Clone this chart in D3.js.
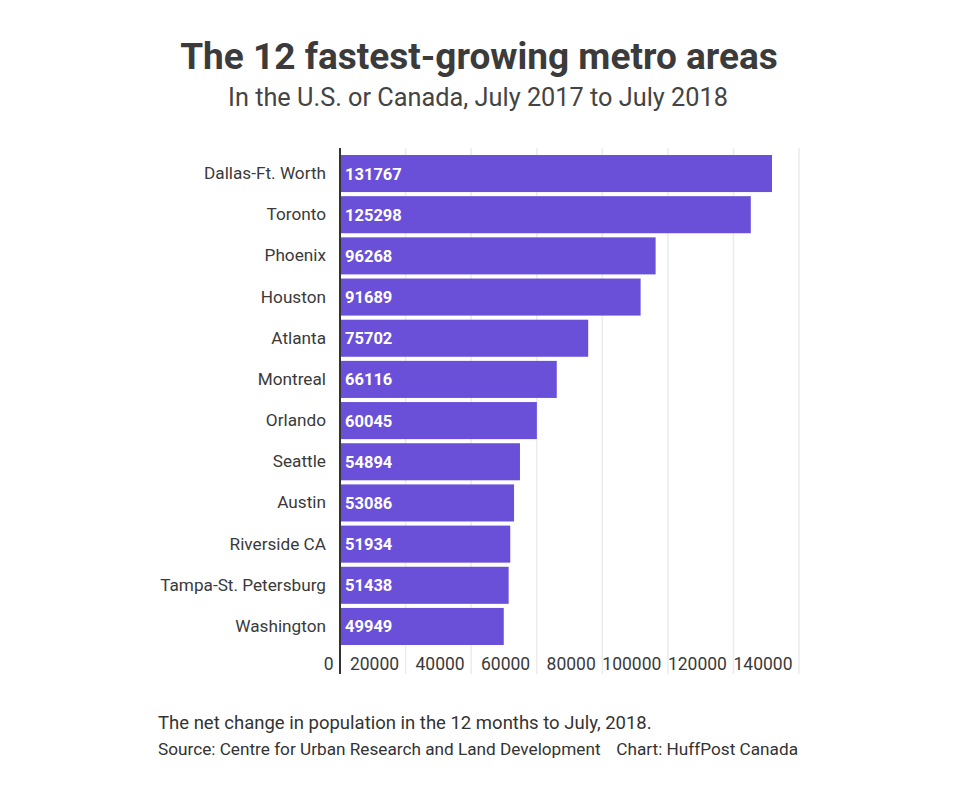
<!DOCTYPE html>
<html>
<head>
<meta charset="utf-8">
<script src="https://cdn.jsdelivr.net/npm/d3@7"></script>
<style>
  body { margin: 0; background: #fff; }
  text { font-family: Roboto, "Noto Sans", sans-serif; }
</style>
</head>
<body>
<div class="canvas"></div>
<script>
// data
const metros = ["Dallas-Ft. Worth", "Toronto", "Phoenix", "Houston", "Atlanta", "Montreal",
  "Orlando", "Seattle", "Austin", "Riverside CA", "Tampa-St. Petersburg", "Washington"];
const growth = [131767, 125298, 96268, 91689, 75702, 66116, 60045, 54894, 53086, 51934, 51438, 49949];
const tickValues = [0, 20000, 40000, 60000, 80000, 100000, 120000, 140000];

const chartSet = { width: 974, height: 787 };
const plot = { left: 340, right: 799, top: 148, bottom: 674, barTop: 155, barBottom: 645 };

const svg = d3
  .select(".canvas")
  .append("svg")
  .attr("width", chartSet.width)
  .attr("height", chartSet.height);

// titles
svg.append("text")
  .attr("x", 479).attr("y", 69)
  .attr("text-anchor", "middle")
  .attr("font-size", 37).attr("font-weight", "bold")
  .attr("fill", "#3b3b3b")
  .text("The 12 fastest-growing metro areas");

svg.append("text")
  .attr("x", 478).attr("y", 106)
  .attr("text-anchor", "middle")
  .attr("font-size", 25.3)
  .attr("fill", "#444")
  .text("In the U.S. or Canada, July 2017 to July 2018");

// scales
const x = d3.scaleLinear().domain([0, 140000]).range([plot.left, plot.right]);
const y = d3.scaleBand().domain(metros).range([plot.barTop, plot.barBottom]).paddingInner(0.1).paddingOuter(0);

// gridlines
svg.append("g")
  .selectAll("line")
  .data(tickValues.slice(1))
  .join("line")
  .attr("x1", (d) => x(d)).attr("x2", (d) => x(d))
  .attr("y1", plot.top).attr("y2", plot.bottom)
  .attr("stroke", "#ebebeb").attr("stroke-width", 1.5);

// bars
const rows = metros.map((m, i) => ({ nama: m, nilai: growth[i] }));

svg.append("g")
  .selectAll("rect")
  .data(rows)
  .join("rect")
  .attr("x", x(0))
  .attr("y", (d) => y(d.nama))
  .attr("width", (d) => x(d.nilai) - x(0))
  .attr("height", y.bandwidth())
  .attr("fill", "#6a50d8");

// value labels
svg.append("g")
  .selectAll("text")
  .data(rows)
  .join("text")
  .attr("x", x(0) + 5)
  .attr("y", (d) => y(d.nama) + y.bandwidth() / 2 + 6)
  .attr("font-size", 16.5).attr("font-weight", "bold")
  .attr("fill", "#fff")
  .text((d) => d.nilai);

// category axis
const yAxis = d3.axisLeft(y).tickSize(0).tickPadding(14);
const yG = svg.append("g").attr("transform", `translate(${plot.left},0)`).call(yAxis);
yG.select(".domain").remove();
yG.selectAll("text")
  .attr("font-size", 17.2)
  .attr("font-family", "Roboto, sans-serif")
  .attr("fill", "#3a3a3a");

// zero line
svg.append("line")
  .attr("x1", x(0)).attr("x2", x(0))
  .attr("y1", plot.top).attr("y2", plot.bottom)
  .attr("stroke", "#333").attr("stroke-width", 2);

// value axis, labels sit just left of each gridline
const xAxis = d3.axisBottom(x).tickValues(tickValues).tickSize(0).tickFormat((d) => d);
const xG = svg.append("g").attr("transform", `translate(0,${plot.bottom - 4})`).call(xAxis);
xG.select(".domain").remove();
xG.selectAll("text")
  .attr("text-anchor", "end")
  .attr("dx", -7)
  .attr("dy", 0)
  .attr("y", 0)
  .attr("font-size", 17.5)
  .attr("font-family", "Roboto, sans-serif")
  .attr("fill", "#3a3a3a");

// footer
svg.append("text")
  .attr("x", 158).attr("y", 729)
  .attr("font-size", 18.5)
  .attr("fill", "#333")
  .text("The net change in population in the 12 months to July, 2018.");

svg.append("text")
  .attr("x", 158).attr("y", 755)
  .attr("font-size", 17.2)
  .attr("fill", "#333")
  .text("Source: Centre for Urban Research and Land Development");

svg.append("text")
  .attr("x", 798).attr("y", 755)
  .attr("text-anchor", "end")
  .attr("font-size", 17.2)
  .attr("fill", "#333")
  .text("Chart: HuffPost Canada");
</script>
</body>
</html>
